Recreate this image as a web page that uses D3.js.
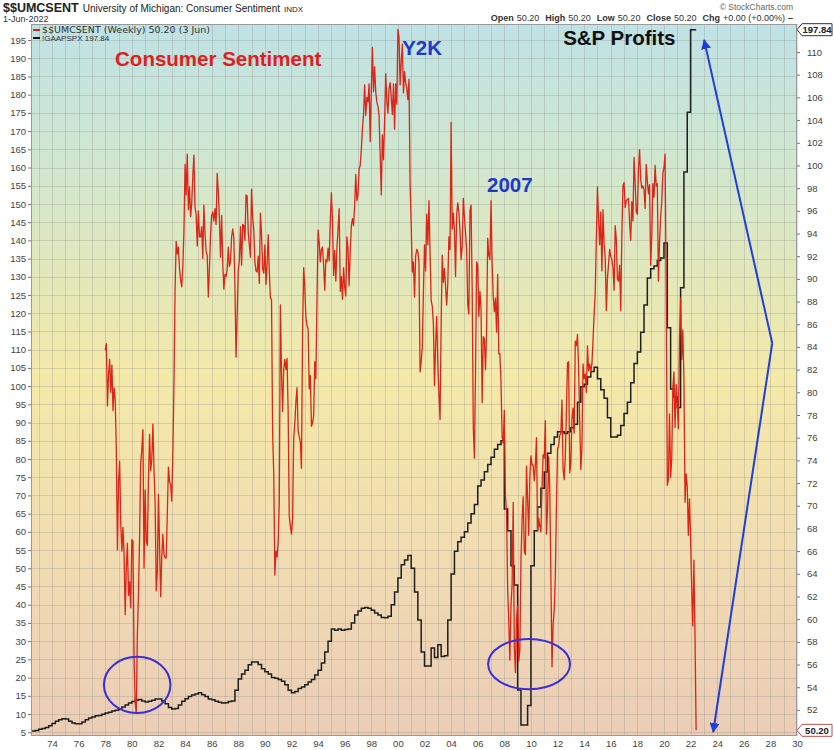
<!DOCTYPE html>
<html>
<head>
<meta charset="utf-8">
<script src="https://cdn.jsdelivr.net/npm/d3@7"></script>
<style>
  body { margin: 0; background: #fff; }
  svg text { font-family: "Liberation Sans", Arial, sans-serif; }
  .tick text { fill: #444; font-size: 9.5px; }
  .tick line { stroke: #777; }
</style>
</head>
<body>
<svg id="chart" width="834" height="750"></svg>
<script>
// University of Michigan consumer sentiment, monthly from Jan 1978 (right axis)
const sentimentStart = 1978;
const sentiment = [
  83.7, 84.3, 78.8, 81.6, 82.9, 80.0, 82.4, 78.4, 80.4, 79.3, 75.0, 66.1,
  72.1, 73.9, 68.4, 66.0, 68.1, 65.8, 60.4, 64.5, 66.7, 62.1, 63.3, 61.0,
  67.0, 66.9, 56.5, 52.7, 51.7, 58.7, 62.3, 67.3, 73.7, 75.0, 76.7, 64.5,
  71.4, 66.9, 66.5, 72.4, 76.3, 73.1, 74.1, 77.2, 73.1, 70.3, 62.5, 64.3,
  71.0, 66.5, 62.0, 65.5, 67.5, 65.7, 65.4, 65.4, 69.3, 73.4, 72.1, 71.9,
  70.4, 74.6, 80.8, 89.1, 93.3, 92.2, 92.8, 90.9, 89.9, 89.3, 91.1, 94.2,
  100.1, 97.4, 101.0, 96.1, 98.1, 95.5, 96.6, 99.1, 100.9, 96.3, 95.7, 92.9,
  96.0, 93.7, 93.7, 94.6, 91.8, 96.5, 94.0, 92.4, 92.1, 88.4, 90.9, 93.9,
  95.6, 95.9, 95.1, 96.2, 94.8, 99.3, 97.7, 95.3, 91.9, 95.6, 91.4, 89.1,
  90.4, 90.2, 90.8, 92.8, 91.1, 91.5, 93.7, 94.4, 93.6, 89.3, 83.1, 86.8,
  90.8, 91.6, 94.6, 91.2, 94.8, 94.7, 93.4, 97.4, 97.3, 94.1, 93.0, 91.9,
  97.9, 95.4, 94.3, 91.5, 90.7, 90.6, 92.0, 89.6, 95.8, 93.9, 90.9, 90.5,
  93.0, 89.5, 91.3, 93.9, 90.6, 88.3, 88.2, 76.4, 72.8, 63.9, 66.0, 65.5,
  66.8, 70.4, 87.7, 81.8, 78.3, 82.1, 82.9, 82.0, 83.0, 78.3, 69.1, 68.2,
  67.5, 68.8, 76.0, 77.2, 79.2, 80.4, 76.6, 76.1, 75.6, 73.3, 85.3, 91.0,
  89.3, 86.6, 85.9, 85.6, 80.3, 81.5, 77.0, 77.3, 77.9, 82.7, 81.2, 88.2,
  94.3, 93.2, 91.5, 92.6, 92.8, 91.2, 89.0, 91.7, 91.5, 92.7, 91.6, 95.1,
  97.6, 95.1, 90.3, 92.5, 89.8, 92.7, 94.4, 96.2, 88.9, 90.2, 88.2, 91.0,
  89.3, 88.5, 93.7, 92.7, 89.4, 92.4, 94.7, 95.3, 94.7, 96.5, 99.2, 96.9,
  97.4, 99.7, 100.0, 101.4, 103.2, 104.5, 107.1, 104.4, 106.0, 105.6, 107.2, 102.1,
  106.6, 110.4, 106.5, 108.7, 106.5, 105.6, 105.2, 104.4, 100.9, 97.4, 102.7, 100.5,
  103.9, 108.1, 105.7, 104.6, 106.8, 107.3, 106.0, 104.5, 107.2, 103.2, 107.2, 105.4,
  112.0, 111.3, 107.1, 109.2, 110.7, 106.4, 108.3, 107.3, 106.8, 105.8, 107.6, 98.4,
  94.7, 90.6, 91.5, 88.4, 92.0, 92.6, 92.4, 91.5, 81.8, 82.7, 83.9, 88.8,
  93.0, 90.7, 95.7, 93.0, 96.9, 92.4, 88.1, 87.6, 86.1, 80.6, 84.2, 86.7,
  82.4, 79.9, 77.6, 86.0, 92.1, 89.7, 90.9, 89.3, 87.7, 89.6, 93.7, 92.6,
  103.8, 94.4, 95.8, 94.2, 90.2, 95.6, 96.7, 95.9, 94.2, 91.7, 92.8, 97.1,
  95.5, 94.1, 92.6, 87.7, 86.9, 96.0, 96.5, 89.1, 76.9, 74.2, 81.6, 91.5,
  91.2, 86.7, 88.9, 87.4, 79.1, 84.9, 84.7, 82.0, 85.4, 93.6, 92.1, 91.7,
  96.9, 91.3, 88.4, 87.1, 88.3, 85.3, 90.4, 83.4, 83.4, 80.9, 76.1, 75.5,
  78.4, 70.8, 69.5, 62.6, 59.8, 56.4, 61.2, 63.0, 70.3, 57.6, 55.3, 60.1,
  61.2, 56.3, 57.3, 65.1, 68.7, 70.8, 66.0, 65.7, 73.5, 70.6, 67.4, 72.5,
  74.4, 73.6, 73.6, 72.2, 73.6, 76.0, 67.8, 68.9, 68.2, 67.7, 71.6, 74.5,
  74.2, 77.5, 67.5, 69.8, 74.3, 71.5, 63.7, 55.8, 59.5, 60.8, 63.7, 69.9,
  75.0, 75.3, 76.2, 76.4, 79.3, 73.2, 72.3, 74.3, 78.3, 82.6, 82.7, 72.9,
  73.8, 77.6, 78.6, 76.4, 84.5, 84.1, 85.1, 82.1, 77.5, 73.2, 75.1, 82.5,
  81.2, 81.6, 80.0, 84.1, 81.9, 82.5, 81.8, 82.5, 84.6, 86.9, 88.8, 93.6,
  98.1, 95.4, 93.0, 95.9, 90.7, 96.1, 93.1, 91.9, 87.2, 90.0, 91.3, 92.6,
  92.0, 91.7, 91.0, 89.0, 94.7, 93.5, 90.0, 89.8, 91.2, 87.2, 93.8, 98.2,
  98.5, 96.3, 96.9, 97.0, 97.1, 95.0, 93.4, 96.8, 95.1, 100.7, 98.5, 95.9,
  95.7, 99.7, 101.4, 98.8, 98.0, 98.2, 97.9, 96.2, 100.1, 98.6, 97.5, 98.3,
  91.2, 93.8, 98.4, 97.2, 100.0, 98.2, 98.4, 89.8, 93.2, 95.5, 96.8, 99.3,
  99.8, 101.0, 89.1, 71.8, 72.3, 78.1, 72.5, 74.1, 80.4, 81.8, 76.9, 80.7,
  79.0, 76.8, 84.9, 88.3, 82.9, 85.5, 81.2, 70.3, 72.8, 71.7, 67.4, 70.6,
  67.2, 62.8, 59.4, 65.2, 58.4, 50.2
];

// S&P 500 GAAP earnings, quarterly steps from mid-1972 (left axis)
const profitsStart = 1972.5;
const profits = [
  5.3, 5.5,
  5.8, 6.0, 6.3, 6.8,
  7.4, 8.0, 8.4, 8.7,
  8.6, 8.0, 7.5, 7.3,
  7.3, 7.8, 8.4, 8.9,
  9.2, 9.5, 9.6, 9.9,
  10.3, 10.5, 10.8, 11.0,
  11.3, 11.9, 12.5, 13.0,
  13.4, 13.8, 14.0, 13.6,
  13.3, 13.5, 13.8, 14.1,
  14.1, 13.6, 12.8, 11.8,
  11.4, 11.5, 12.5, 13.5,
  14.2, 14.8, 15.2, 15.5,
  15.8, 15.3, 14.8, 14.1,
  13.9, 13.5, 13.2, 13.0,
  13.1, 13.4, 13.6, 16.5,
  19.6, 21.0, 22.0, 23.5,
  24.3, 24.3, 23.6, 22.4,
  21.6, 21.0, 20.0, 19.8,
  19.5, 19.0, 18.0, 16.5,
  15.8, 16.2, 17.0, 17.4,
  18.0, 18.8, 19.5, 20.7,
  22.0, 24.0, 27.0, 30.0,
  33.3, 33.0, 33.3, 33.0,
  33.2, 33.3, 35.0, 37.2,
  38.3, 39.0, 39.2, 39.0,
  38.5, 37.7, 37.2, 36.5,
  36.4, 36.8, 40.0, 43.5,
  47.3, 51.0, 52.3, 53.5,
  50.0, 43.5, 35.8, 27.0,
  23.2, 23.2, 28.1, 25.5,
  29.0, 25.8, 26.0, 35.8,
  48.4, 54.7, 57.3, 58.5,
  60.0, 62.4, 65.0, 67.5,
  72.6, 74.2, 76.5, 78.5,
  80.5, 82.7, 84.0, 85.0,
  66.3, 60.3, 50.7, 45.4,
  16.6, 7.0, 7.0, 12.3,
  50.7, 60.3, 66.8, 72.0,
  76.4, 81.6, 84.0, 86.0,
  87.5, 87.5, 87.0, 87.5,
  88.6, 89.5, 95.6, 99.8,
  100.5, 102.5, 104.0, 105.2,
  102.0, 99.0, 96.7, 91.3,
  86.0, 86.0, 86.5, 89.2,
  92.5, 95.6, 100.9, 106.2,
  109.4, 114.8, 122.3, 129.7,
  132.2, 133.0, 134.5, 135.2,
  139.3, 116.0, 99.2, 97.0,
  94.1, 127.0, 158.8, 175.2,
  197.84
];
const lastDate = 2022.42;

const leftTicks = d3.range(5, 200, 5);
const rightTicks = d3.range(52, 111, 2);
const yearTicks = d3.range(1974, 2031, 2);
const gridYears = d3.range(1973, 2031, 1);

const svg = d3.select('#chart');
const plot = { left: 31, right: 797, top: 24, bottom: 736 };

const x = d3.scaleLinear().domain([1972.42, 2030]).range([plot.left, plot.right]);
const yLeft = d3.scaleLinear().domain([3.96, 199.4]).range([plot.bottom, plot.top]);
const yRight = d3.scaleLinear().domain([49.7, 112.47]).range([plot.bottom, plot.top]);

// background gradient
let defs = svg.append('defs');
let grad = defs.append('linearGradient').attr('id', 'bg')
  .attr('x1', 0).attr('y1', 0).attr('x2', 0).attr('y2', 1);
[[0, '#bfe2e5'], [0.22, '#d3e7cc'], [0.5, '#f4e9a8'], [0.75, '#f1dcb2'], [1, '#ebcdb7']]
  .forEach(s => grad.append('stop').attr('offset', s[0]).attr('stop-color', s[1]));

defs.append('clipPath').attr('id', 'clip').append('rect')
  .attr('x', plot.left).attr('y', plot.top)
  .attr('width', plot.right - plot.left).attr('height', plot.bottom - plot.top);

defs.append('marker').attr('id', 'head')
  .attr('viewBox', '0 0 10 10').attr('refX', 9).attr('refY', 5)
  .attr('markerWidth', 5).attr('markerHeight', 5).attr('orient', 'auto')
  .append('path').attr('d', 'M0,0L10,5L0,10z').attr('fill', '#1f3fd6');

svg.append('rect')
  .attr('x', plot.left).attr('y', plot.top)
  .attr('width', plot.right - plot.left).attr('height', plot.bottom - plot.top)
  .attr('fill', 'url(#bg)');

// grid
let grid = svg.append('g').attr('stroke', '#8a8a80').attr('stroke-opacity', 0.28).attr('stroke-width', 1);
grid.selectAll('.gx').data(gridYears).enter().append('line')
  .attr('x1', d => Math.round(x(d)) + 0.5).attr('x2', d => Math.round(x(d)) + 0.5)
  .attr('y1', plot.top).attr('y2', plot.bottom);
grid.selectAll('.gy').data(leftTicks).enter().append('line')
  .attr('x1', plot.left).attr('x2', plot.right)
  .attr('y1', d => Math.round(yLeft(d)) + 0.5).attr('y2', d => Math.round(yLeft(d)) + 0.5);

// series
let sentData = sentiment.map((v, i) => [sentimentStart + i / 12, v]);
let profitData = profits.map((v, i) => [profitsStart + i / 4, v]);
profitData.push([lastDate, profits[profits.length - 1]]);

let lines = svg.append('g').attr('clip-path', 'url(#clip)');

lines.append('path')
  .datum(profitData)
  .attr('fill', 'none')
  .attr('stroke', '#1e1e1e')
  .attr('stroke-width', 1.5)
  .attr('d', d3.line().x(d => x(d[0])).y(d => yLeft(d[1])).curve(d3.curveStepAfter));

lines.append('path')
  .datum(sentData)
  .attr('fill', 'none')
  .attr('stroke', '#dc2417')
  .attr('stroke-width', 1.3)
  .attr('stroke-linejoin', 'round')
  .attr('d', d3.line().x(d => x(d[0])).y(d => yRight(d[1])));

// plot frame
svg.append('rect')
  .attr('x', plot.left + 0.5).attr('y', plot.top + 0.5)
  .attr('width', plot.right - plot.left - 1).attr('height', plot.bottom - plot.top - 1)
  .attr('fill', 'none').attr('stroke', '#9a9a9a');

// axes
let leftAxis = svg.append('g').attr('transform', `translate(${plot.left},0)`)
  .call(d3.axisLeft(yLeft).tickValues(leftTicks).tickSize(3).tickPadding(2));
leftAxis.select('.domain').remove();

let rightAxis = svg.append('g').attr('transform', `translate(${plot.right},0)`)
  .call(d3.axisRight(yRight).tickValues(rightTicks).tickSize(3).tickPadding(7));
rightAxis.select('.domain').remove();

let bottomAxis = svg.append('g').attr('transform', `translate(0,${plot.bottom})`)
  .call(d3.axisBottom(x).tickValues(yearTicks).tickSize(0).tickPadding(4)
    .tickFormat(d => String(d % 100).padStart(2, '0')));
bottomAxis.select('.domain').remove();

// value flags on the right edge
function flag(yPos, label, border) {
  let g = svg.append('g').attr('transform', `translate(${plot.right},${yPos})`);
  g.append('path')
    .attr('d', 'M0,0L5,-6L35,-6L35,6L5,6Z')
    .attr('fill', '#fff').attr('stroke', border).attr('stroke-width', 1);
  g.append('text').attr('x', 20).attr('y', 3.5).attr('text-anchor', 'middle')
    .attr('font-size', 9.5).attr('font-weight', 'bold').attr('fill', '#222').text(label);
}
flag(yLeft(197.84), '197.84', '#333');
flag(yRight(50.2), '50.20', '#c0504d');

// header
let head = svg.append('text').attr('x', 3).attr('y', 12).attr('fill', '#222');
head.append('tspan').attr('font-size', 12.5).attr('font-weight', 'bold').text('$$UMCSENT');
head.append('tspan').attr('font-size', 10).attr('dx', 4).text('University of Michigan: Consumer Sentiment');
head.append('tspan').attr('font-size', 8).attr('dx', 4).text('INDX');
svg.append('text').attr('x', 3).attr('y', 22).attr('font-size', 9).attr('fill', '#333').text('1-Jun-2022');

svg.append('text').attr('x', 793).attr('y', 10).attr('text-anchor', 'end')
  .attr('font-size', 8.5).attr('fill', '#666').text('\u00a9 StockCharts.com');

let ohlc = svg.append('text').attr('x', 793).attr('y', 21).attr('text-anchor', 'end')
  .attr('font-size', 9).attr('fill', '#333');
[['Open', '50.20'], ['High', '50.20'], ['Low', '50.20'], ['Close', '50.20'], ['Chg', '+0.00 (+0.00%)']]
  .forEach((p, i) => {
    ohlc.append('tspan').attr('font-weight', 'bold').attr('dx', i ? 6 : 0).text(p[0]);
    ohlc.append('tspan').attr('dx', 3).text(p[1]);
  });
ohlc.append('tspan').attr('dx', 3).attr('font-weight', 'bold').text('\u2013');

// legend
svg.append('line').attr('x1', 33).attr('x2', 40).attr('y1', 30).attr('y2', 30)
  .attr('stroke', '#dc2417').attr('stroke-width', 2);
svg.append('text').attr('x', 42).attr('y', 33).attr('font-size', 9.5).attr('fill', '#333')
  .style('font-family', '"DejaVu Sans", sans-serif')
  .attr('textLength', 168).text('$$UMCSENT (Weekly) 50.20 (3 Jun)');
svg.append('line').attr('x1', 33).attr('x2', 40).attr('y1', 38).attr('y2', 38)
  .attr('stroke', '#111').attr('stroke-width', 2);
svg.append('text').attr('x', 42).attr('y', 41).attr('font-size', 8).attr('fill', '#333')
  .text('!GAAPSPX 197.84');

// annotations (positions in data units: year, left-axis value)
const labels = [
  { text: 'Consumer Sentiment', year: 1978.74, value: 187.9, color: '#e02020' },
  { text: 'Y2K', year: 2000.32, value: 190.9, color: '#2238c8' },
  { text: 'S&P Profits', year: 2012.42, value: 193.6, color: '#111' },
  { text: '2007', year: 2006.7, value: 153.3, color: '#2238c8' }
];
svg.selectAll('.note').data(labels).enter().append('text')
  .attr('x', d => x(d.year)).attr('y', d => yLeft(d.value))
  .attr('font-size', 20.5).attr('font-weight', 'bold')
  .attr('fill', d => d.color).text(d => d.text);

const circles = [
  { year: 1980.4, value: 18.0, rx: 2.5, ry: 7.7 },
  { year: 2009.86, value: 23.7, rx: 3.08, ry: 6.9 }
];
svg.selectAll('.ring').data(circles).enter().append('ellipse')
  .attr('cx', d => x(d.year)).attr('cy', d => yLeft(d.value))
  .attr('rx', d => x(d.year + d.rx) - x(d.year))
  .attr('ry', d => yLeft(d.value - d.ry) - yLeft(d.value))
  .attr('fill', 'none').attr('stroke', '#3a2fd6').attr('stroke-width', 2);

const apex = { year: 2028.14, value: 111.8 };
const tips = [{ year: 2023.02, value: 195.0 }, { year: 2023.7, value: 5.06 }];
svg.selectAll('.arrow').data(tips).enter().append('line')
  .attr('x1', x(apex.year)).attr('y1', yLeft(apex.value))
  .attr('x2', d => x(d.year)).attr('y2', d => yLeft(d.value))
  .attr('stroke', '#1f3fd6').attr('stroke-width', 2)
  .attr('marker-end', 'url(#head)');
</script>
</body>
</html>
